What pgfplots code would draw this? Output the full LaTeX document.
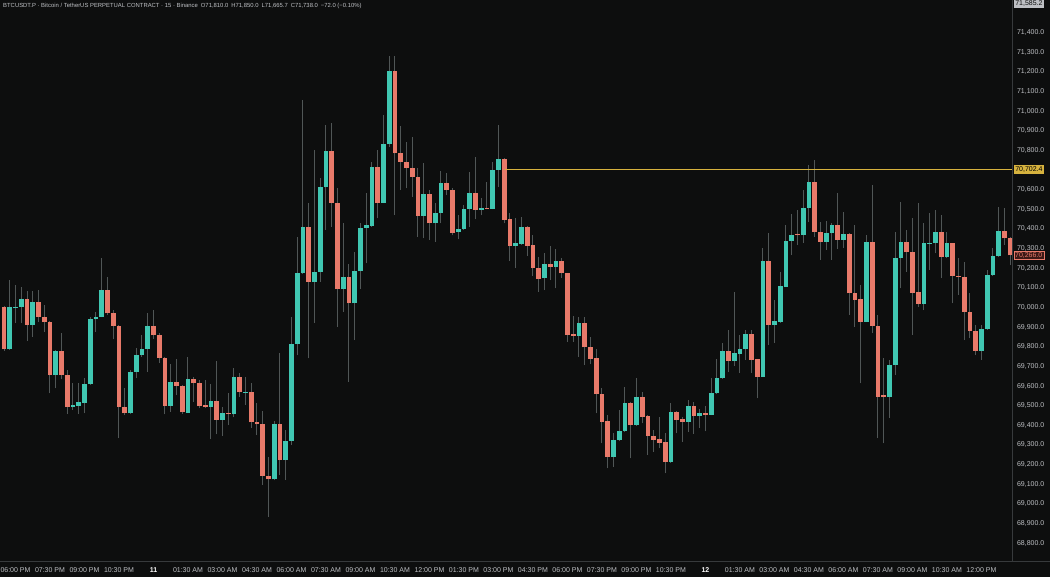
\documentclass[border=0pt]{standalone}
\usepackage{pgfplots}
\pgfplotsset{compat=1.18}
\usepackage{pgfplotstable}
\usepackage{fontspec}
\setmainfont{Liberation Sans}
\definecolor{bg}{RGB}{13,14,14}
\definecolor{upc}{RGB}{64,199,178}
\definecolor{dnc}{RGB}{232,122,106}
\definecolor{wick}{RGB}{80,86,86}
\definecolor{txt}{RGB}{190,192,196}
\definecolor{sep}{RGB}{55,58,60}
\definecolor{gold}{RGB}{214,178,62}

\pgfplotstableread{
k o h l c
-1 69787 70140 69785 70000
0 69995 70115 69921 70005
1 70004 70106 69921 70042
3 69911 70086 69851 70026
7 69655 69785 69588 69778
10 69492 69614 69478 69503
11 69500 69614 69458 69517
12 69515 69640 69461 69610
13 69610 69953 69605 69941
14 69940 69979 69877 69953
15 69953 70251 69950 70089
20 69461 69680 69458 69673
21 69673 69792 69639 69758
22 69757 69860 69750 69790
23 69790 69970 69673 69906
27 69498 69711 69470 69620
30 69464 69746 69462 69636
34 69493 69610 69329 69524
36 69427 69495 69347 69461
38 69456 69690 69440 69646
40 69566 69644 69503 69572
45 69125 69423 69120 69405
47 69223 69376 69122 69320
48 69320 69953 69300 69814
49 69814 70361 69758 70174
50 70174 71057 70170 70409
52 70131 70802 69920 70182
53 70182 70658 70131 70612
54 70612 70930 70395 70799
57 70093 70429 69979 70157
59 70021 70284 69834 70184
60 70184 70429 70095 70403
61 70407 70582 70225 70420
62 70417 70743 70410 70714
64 70534 70981 70530 70831
65 70831 71281 70818 71205
71 70468 70738 70352 70578
73 70429 70531 70335 70483
74 70483 70697 70429 70633
77 70384 70471 70347 70398
78 70398 70522 70395 70500
79 70500 70692 70412 70585
81 70497 70556 70471 70507
83 70502 70743 70500 70700
84 70700 70930 70615 70758
87 70313 70454 70200 70327
88 70323 70463 70320 70412
92 70149 70279 70089 70222
94 70208 70296 70098 70238
98 69856 69950 69749 69923
104 69240 69359 69190 69325
105 69325 69478 69318 69372
106 69372 69597 69365 69515
108 69401 69639 69398 69544
114 69215 69515 69210 69469
117 69418 69529 69367 69498
119 69447 69481 69385 69461
121 69452 69639 69450 69566
122 69563 69736 69560 69642
123 69639 69818 69636 69780
125 69729 70080 69702 69767
126 69763 69860 69668 69789
127 69789 69885 69733 69865
130 69647 70302 69645 70238
132 69911 70038 69818 69931
133 69925 70182 69922 70110
134 70106 70420 70104 70340
135 70340 70476 70267 70369
137 70369 70599 70330 70508
138 70505 70726 70437 70641
141 70335 70442 70293 70381
142 70378 70430 70242 70420
144 70344 70488 70302 70373
148 69928 70369 69925 70335
152 69546 69733 69436 69707
153 69707 70386 69656 70251
154 70251 70539 70098 70332
158 70018 70429 69987 70327
159 70324 70480 70191 70330
160 70327 70497 70276 70383
162 70256 70386 70250 70327
168 69780 69911 69733 69889
169 69889 70191 69885 70166
170 70166 70302 70160 70262
171 70262 70513 70258 70390
}\up

\pgfplotstableread{
k o h l c
-2 70001 70010 69780 69787
2 70042 70084 69831 69911
4 70026 70089 69928 69953
5 69953 70013 69877 69926
6 69928 69930 69563 69655
8 69778 69869 69634 69655
9 69656 69682 69458 69492
16 70089 70157 69962 69970
17 69973 69985 69838 69906
18 69906 69910 69334 69495
19 69495 69592 69452 69461
24 69906 69987 69842 69858
25 69858 69870 69716 69744
26 69744 69748 69456 69498
28 69620 69738 69554 69602
29 69602 69605 69460 69466
31 69636 69648 69520 69614
32 69615 69631 69486 69498
33 69502 69631 69488 69493
35 69524 69729 69354 69427
37 69464 69563 69401 69458
39 69646 69665 69543 69568
41 69570 69614 69388 69415
42 69418 69512 69350 69405
43 69407 69473 69096 69142
44 69142 69240 68934 69125
46 69405 69767 69147 69223
51 70409 70531 69741 70131
55 70799 70938 70412 70534
56 70534 70607 69902 70093
58 70157 70222 69622 70021
63 70714 70802 70454 70534
66 71205 71281 70471 70785
67 70785 70925 70599 70743
68 70743 70845 70607 70709
69 70709 70867 70564 70666
70 70666 70709 70361 70468
72 70578 70599 70344 70429
75 70633 70684 70573 70599
76 70599 70610 70368 70381
80 70585 70765 70449 70497
82 70508 70641 70500 70502
85 70758 70760 70429 70446
86 70449 70480 70238 70313
89 70412 70415 70262 70313
90 70317 70369 70160 70200
91 70203 70256 70080 70145
93 70222 70313 70140 70208
95 70238 70250 70149 70174
96 70174 70176 69826 69860
97 69864 69957 69826 69856
99 69923 69953 69707 69797
100 69800 69848 69712 69739
101 69743 69787 69461 69559
102 69559 69588 69308 69418
103 69422 69452 69181 69240
107 69515 69518 69232 69401
109 69544 69571 69410 69444
110 69447 69450 69249 69345
111 69345 69376 69265 69325
112 69329 69441 69283 69311
113 69313 69362 69155 69215
115 69469 69475 69359 69427
116 69432 69444 69316 69418
118 69498 69520 69356 69447
120 69464 69498 69369 69452
124 69780 69885 69673 69729
128 69865 69885 69668 69733
129 69736 69740 69537 69647
131 70238 70378 69809 69911
136 70373 70497 70318 70367
139 70641 70751 70361 70386
140 70386 70437 70242 70335
143 70420 70582 70300 70344
145 70373 70380 69962 70072
146 70072 70420 69902 70038
147 70042 70115 69614 69928
149 70335 70624 69869 69906
150 69906 69962 69334 69546
151 69552 69741 69308 69546
155 70332 70395 70182 70281
156 70281 70454 69860 70075
157 70077 70531 70005 70018
161 70383 70471 70149 70256
163 70327 70330 70021 70162
164 70162 70251 70064 70155
165 70157 70233 69834 69979
166 69979 70072 69843 69882
167 69882 69911 69758 69780
172 70390 70505 70318 70352
173 70352 70360 70216 70266
}\down

\begin{document}
\begin{tikzpicture}[x=1pt,y=1pt]
\useasboundingbox (0,0) rectangle (1050,577);
\clip (0,0) rectangle (1050,577);
\fill[bg] (0,0) rectangle (1050,577);
\begin{axis}[
  at={(0pt,16pt)}, anchor=south west,
  width=1012.5pt, height=561pt, scale only axis,
  xmin=-2.696, xmax=173.4, ymin=68708.7, ymax=71566.4,
  axis line style={draw=none},
  major tick length=0pt,
  clip mode=individual,
  ytick={68800,68900,69000,69100,69200,69300,69400,69500,69600,69700,69800,69900,70000,70100,70200,70300,70400,70500,70600,70800,70900,71000,71100,71200,71300,71400},
  yticklabel pos=right,
  scaled y ticks=false,
  yticklabel style={font=\fontsize{7}{8}\selectfont, color=txt, anchor=west, xshift=1pt, overlay,
    /pgf/number format/.cd, fixed, fixed zerofill, precision=1, 1000 sep={,}, assume math mode=true},
  xtick={0,6,...,168},
  xticklabels={06:00 PM,07:30 PM,09:00 PM,10:30 PM,\textbf{\color{white}11},01:30 AM,03:00 AM,04:30 AM,06:00 AM,07:30 AM,09:00 AM,10:30 AM,12:00 PM,01:30 PM,03:00 PM,04:30 PM,06:00 PM,07:30 PM,09:00 PM,10:30 PM,\textbf{\color{white}12},01:30 AM,03:00 AM,04:30 AM,06:00 AM,07:30 AM,09:00 AM,10:30 AM,12:00 PM},
  xticklabel style={font=\fontsize{7}{8}\selectfont, color=txt, yshift=-3pt, overlay},
]
% wicks
\addplot[draw=none, mark=none, forget plot, error bars/.cd, y dir=plus, y explicit, error mark=none,
  error bar style={draw=wick, line width=1pt}]
  table[x=k, y=l, y error plus expr=\thisrow{h}-\thisrow{l}] {\up};
\addplot[draw=none, mark=none, forget plot, error bars/.cd, y dir=plus, y explicit, error mark=none,
  error bar style={draw=wick, line width=1pt}]
  table[x=k, y=l, y error plus expr=\thisrow{h}-\thisrow{l}] {\down};
% bodies
\addplot[draw=none, mark=none, forget plot, error bars/.cd, y dir=plus, y explicit, error mark=none,
  error bar style={draw=upc, line width=4.7pt}]
  table[x=k, y=o, y error plus expr=\thisrow{c}-\thisrow{o}] {\up};
\addplot[draw=none, mark=none, forget plot, error bars/.cd, y dir=plus, y explicit, error mark=none,
  error bar style={draw=dnc, line width=4.7pt}]
  table[x=k, y=c, y error plus expr=\thisrow{o}-\thisrow{c}] {\down};
% horizontal ray
\addplot[gold, line width=0.9pt] coordinates {(85.1,70702.4) (173.4,70702.4)};
\end{axis}
% separators
\draw[sep, line width=0.8pt] (1012.5,16) -- (1012.5,577);
\draw[sep, line width=0.8pt] (0,16) -- (1050,16);
% header
\node[anchor=west, font=\fontsize{5.9}{7}\selectfont, color=txt, inner sep=0pt] at (3,571)
  {BTCUSDT.P · Bitcoin / TetherUS PERPETUAL CONTRACT · 15 · Binance\enspace O71,810.0\enspace H71,850.0\enspace L71,665.7\enspace C71,738.0\enspace −72.0 (−0.10\%)};
% price labels
\node[anchor=west, fill=txt, text=bg, font=\fontsize{7}{8}\selectfont, inner sep=1.6pt] at (1013.5,573) {71,585.2};
\node[anchor=west, fill=gold, text=black, font=\fontsize{7}{8}\selectfont, inner sep=1.6pt] at (1013.5,407.4) {70,702.4};
\node[anchor=west, fill={rgb,255:red,60;green,25;blue,22}, draw=dnc, text=dnc, font=\fontsize{7}{8}\selectfont, inner sep=1.4pt] at (1013.5,321.7) {70,266.0};
\end{tikzpicture}
\end{document}
